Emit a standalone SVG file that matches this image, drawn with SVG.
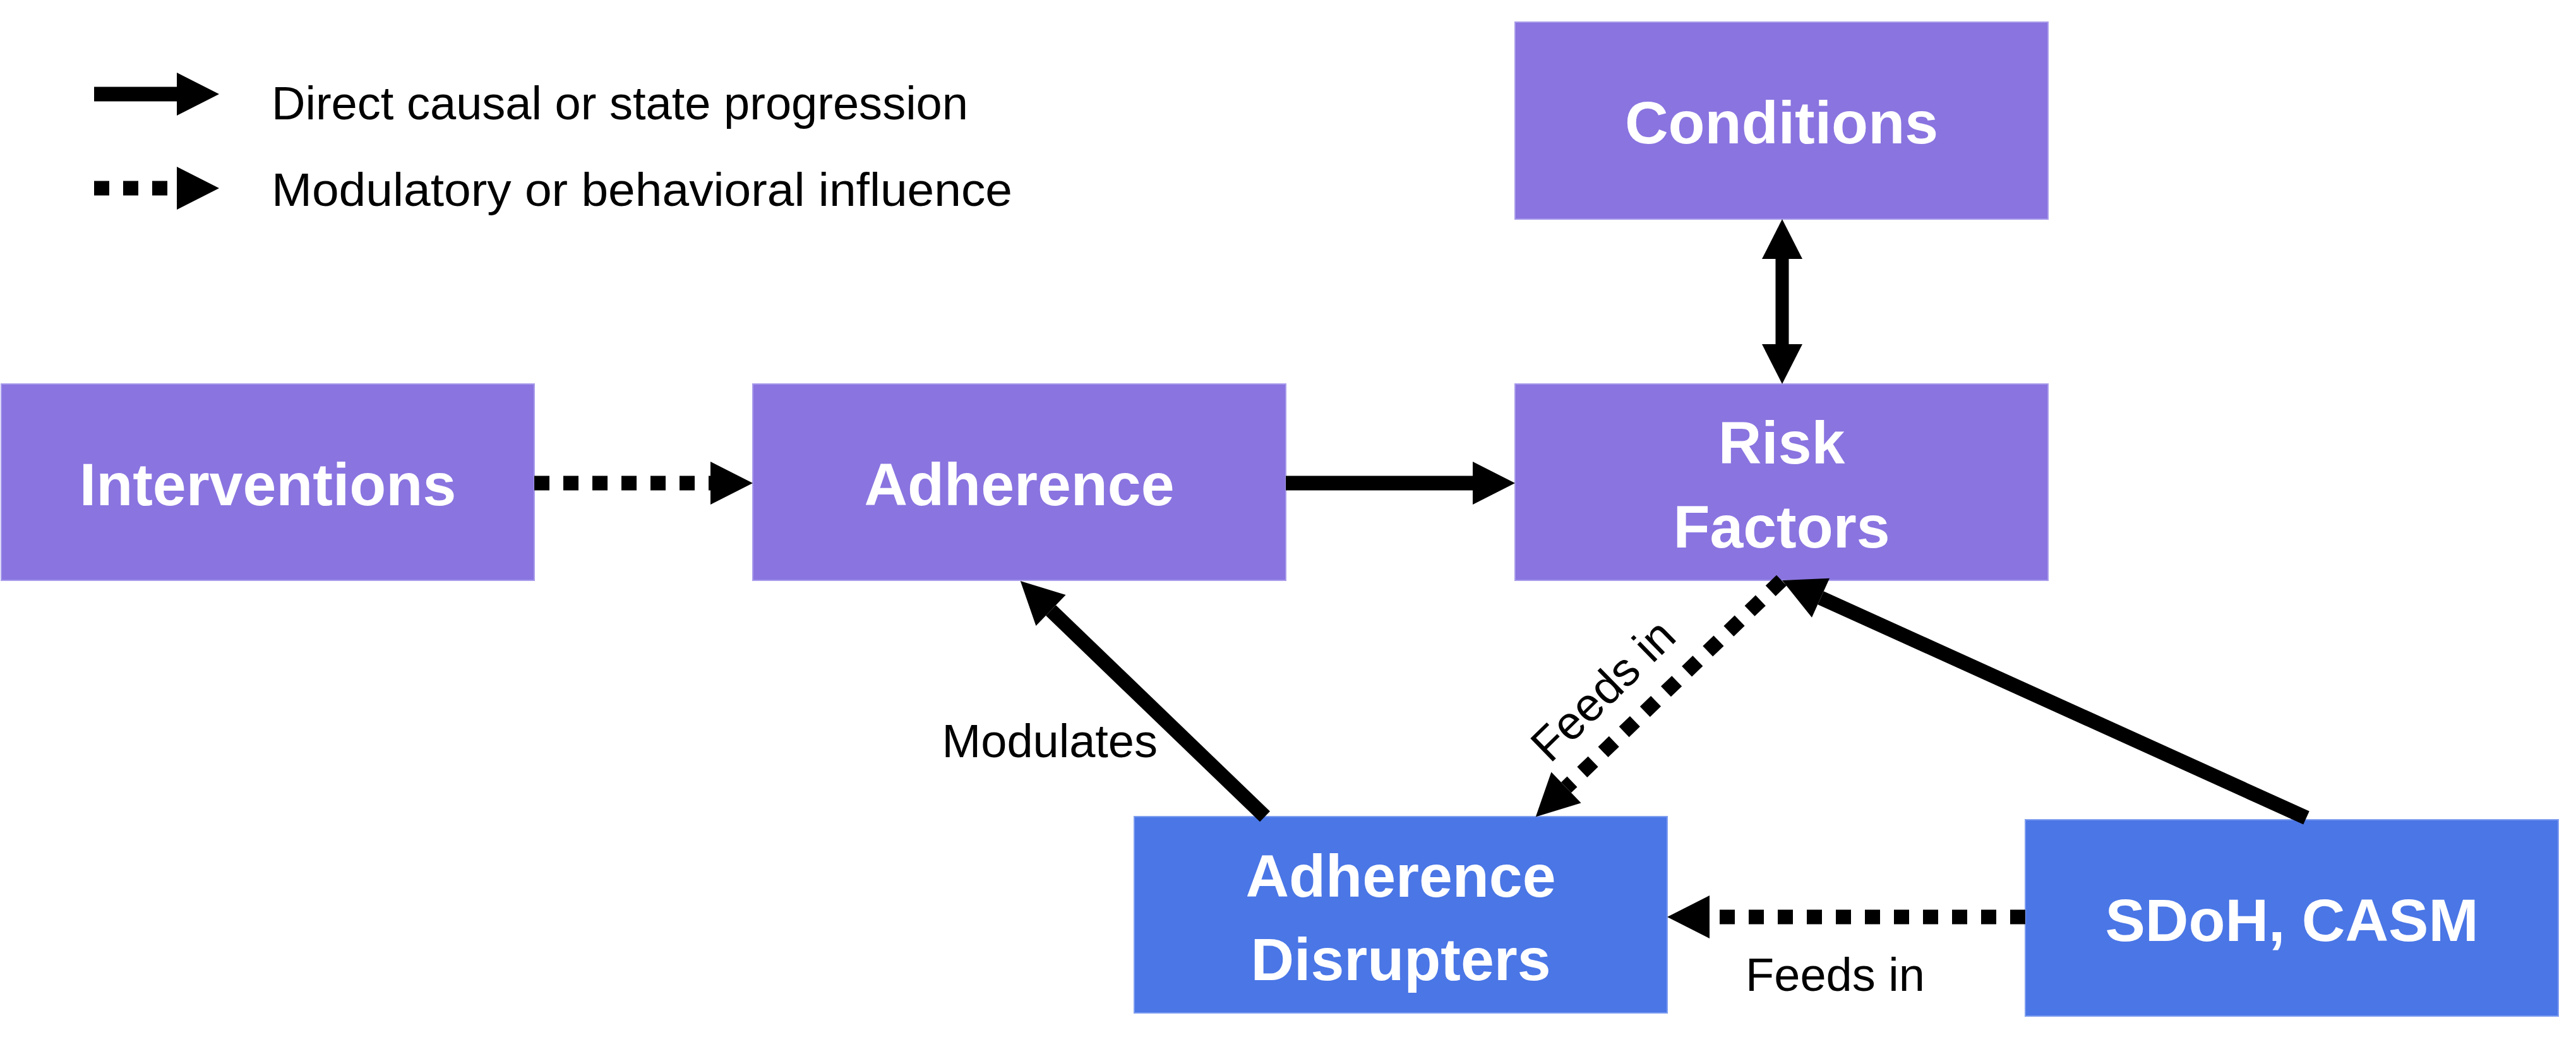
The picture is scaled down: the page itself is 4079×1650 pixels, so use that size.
<svg xmlns="http://www.w3.org/2000/svg" width="4079" height="1650" viewBox="0 0 4079 1650">
  <style>
    .purple { fill: #8A74E0; stroke: #A99DEB; stroke-width: 2; }
    .blue { fill: #4A76E6; stroke: #7F9EF0; stroke-width: 2; }
    .nlabel { font-family: "Liberation Sans", Arial, sans-serif; font-weight: bold; font-size: 95px; fill: #FFFFFF; text-anchor: middle; }
    .elabel { font-family: "Liberation Sans", Arial, sans-serif; font-size: 74px; fill: #000000; }
    .solid { stroke: #000000; stroke-width: 23; fill: none; marker-end: url(#head); }
    .dotted { stroke: #000000; stroke-width: 23; fill: none; stroke-dasharray: 24 22; marker-end: url(#head); }
  </style>
  <defs>
    <marker id="head" markerUnits="userSpaceOnUse" markerWidth="68" markerHeight="68" refX="0" refY="34" orient="auto" overflow="visible">
      <path d="M0,0 L67,34 L0,68 Z" fill="#000000" stroke="none"/>
    </marker>
    <marker id="headS" markerUnits="userSpaceOnUse" markerWidth="64" markerHeight="64" refX="0" refY="32" orient="auto-start-reverse" overflow="visible">
      <path d="M0,0 L63,32 L0,64 Z" fill="#000000" stroke="none"/>
    </marker>
  </defs>

  <rect width="4079" height="1650" fill="#FFFFFF"/>

  <g id="legend">
    <line class="solid" x1="149" y1="149" x2="280" y2="149"/>
    <text class="elabel" x="430" y="189" textLength="1103" lengthAdjust="spacingAndGlyphs">Direct causal or state progression</text>
    <line class="dotted" x1="149" y1="298" x2="280" y2="298"/>
    <text class="elabel" x="430" y="326" textLength="1173" lengthAdjust="spacingAndGlyphs">Modulatory or behavioral influence</text>
  </g>

  <g id="node-conditions">
    <rect class="purple" x="2399" y="35" width="844" height="312"/>
    <text class="nlabel" x="2821" y="227">Conditions</text>
  </g>
  <g id="node-interventions">
    <rect class="purple" x="2" y="608" width="844" height="311"/>
    <text class="nlabel" x="424" y="800">Interventions</text>
  </g>
  <g id="node-adherence">
    <rect class="purple" x="1192" y="608" width="844" height="311"/>
    <text class="nlabel" x="1614" y="800">Adherence</text>
  </g>
  <g id="node-risk-factors">
    <rect class="purple" x="2399" y="608" width="844" height="311"/>
    <text class="nlabel" x="2821" y="734">Risk</text>
    <text class="nlabel" x="2821" y="867">Factors</text>
  </g>
  <g id="node-adherence-disrupters">
    <rect class="blue" x="1796" y="1293" width="844" height="311"/>
    <text class="nlabel" x="2218" y="1420">Adherence</text>
    <text class="nlabel" x="2218" y="1552">Disrupters</text>
  </g>
  <g id="node-sdoh-casm">
    <rect class="blue" x="3207" y="1298" width="844" height="311"/>
    <text class="nlabel" x="3629" y="1490">SDoH, CASM</text>
  </g>

  <g id="connectors">
    <line class="dotted" x1="846" y1="765" x2="1125" y2="765"/>
    <line class="solid" x1="2036" y1="765" x2="2332" y2="765"/>
    <line x1="2822" y1="410" x2="2822" y2="545" stroke="#000000" stroke-width="21" marker-start="url(#headS)" marker-end="url(#headS)"/>
    <line class="solid" x1="2003" y1="1293" x2="1664" y2="966.5"/>
    <text class="elabel" x="1833" y="1199" text-anchor="end">Modulates</text>
    <line class="solid" x1="3652" y1="1295" x2="2883" y2="946.7"/>
    <line class="dotted" x1="2821" y1="919" x2="2480" y2="1247"/>
    <text class="elabel" x="2556" y="1111" text-anchor="middle" transform="rotate(-44.3 2556 1111)">Feeds in</text>
    <line class="dotted" x1="3207" y1="1452" x2="2707" y2="1452"/>
    <text class="elabel" x="2906" y="1569" text-anchor="middle">Feeds in</text>
  </g>
</svg>
